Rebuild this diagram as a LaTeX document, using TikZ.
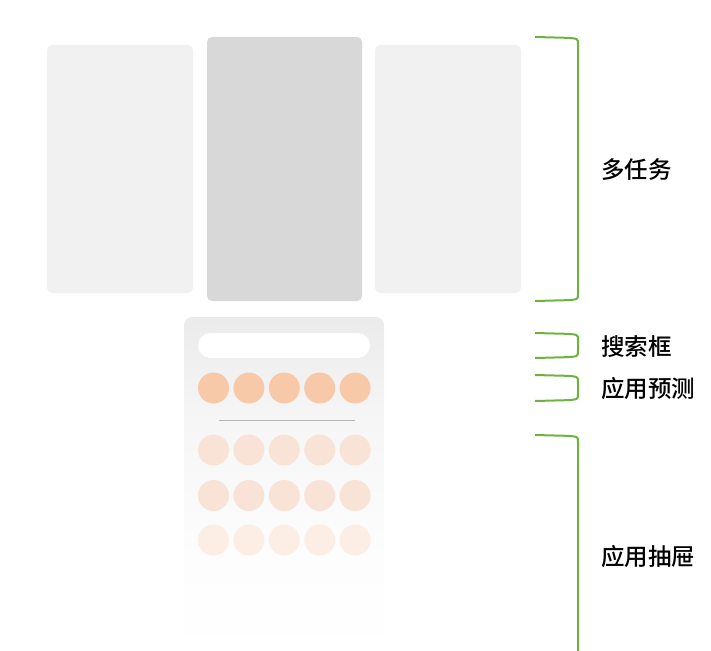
\documentclass[tikz,border=0pt]{standalone}
\usepackage{fontspec}
\newfontfamily\cjk{Noto Sans CJK SC Medium}
\usetikzlibrary{positioning}
\definecolor{cardgray}{HTML}{F1F1F1}
\definecolor{activegray}{HTML}{D8D8D8}
\definecolor{bracegreen}{HTML}{6DB33F}
\definecolor{iconpeach}{HTML}{F7C9A9}
\definecolor{drawerpeach}{HTML}{F9E3D6}
\definecolor{fadedpeach}{HTML}{FCEEE5}
\definecolor{panelgray}{HTML}{EBEBEB}
\definecolor{panelmid}{HTML}{F6F6F6}
\definecolor{panelsoft}{HTML}{FAFAFA}
\definecolor{panelfaint}{HTML}{FDFDFD}
\definecolor{rulegray}{HTML}{B4B4B4}
\pgfdeclareverticalshading{panelfade}{100bp}{color(0bp)=(white); color(25bp)=(white);
  color(40bp)=(panelfaint); color(48bp)=(panelsoft); color(60bp)=(panelmid);
  color(75bp)=(panelgray); color(100bp)=(panelgray)}
\newcommand{\groupbrace}[2]{\draw[groupline] (535,#1) -- (566,#1+0.8) .. controls (578,#1+1.5) .. (578,#1+7)
  -- (578,#2-7) .. controls (578,#2-1.5) .. (566,#2-0.8) -- (535,#2);}

\begin{document}
\begin{tikzpicture}[x=1pt, y=-1pt,
  card/.style={rectangle, rounded corners=5pt, inner sep=0pt, fill=cardgray,
    minimum width=146pt, minimum height=248pt},
  active card/.style={card, fill=activegray, minimum width=155pt, minimum height=264pt},
  icon/.style={circle, inner sep=0pt, minimum size=31pt, fill=iconpeach},
  groupline/.style={draw=bracegreen, line width=2pt},
  group label/.style={anchor=west, inner sep=0pt, font=\cjk\fontsize{23.5}{28}\selectfont}]
  \useasboundingbox (0,0) rectangle (711,650);
  % task switcher cards
  \node[card] (leftcard) at (120,169) {};
  \node[active card] (midcard) at (284.5,169) {};
  \node[card] (rightcard) at (448,169) {};
  % launcher panel
  \shade[shading=panelfade, rounded corners=8pt]
    (184,660) -- (184,317) -- (384,317) -- (384,660) -- cycle;
  \node[rectangle, rounded corners=12.5pt, fill=white, minimum width=172pt, minimum height=25pt] (search) at (284,345.5) {};
  \foreach \i in {0,...,4}
    \node[icon] (pred\i) at (213.5+35.4*\i,388) {};
  \draw[rulegray, line width=0.8pt] (219,420) -- (355,420);
  \foreach \i in {0,...,4} {
    \node[icon, fill=drawerpeach] (appa\i) at (213.5+35.4*\i,450) {};
    \node[icon, fill=drawerpeach] (appb\i) at (213.5+35.4*\i,495.5) {};
    \node[icon, fill=fadedpeach] (appc\i) at (213.5+35.4*\i,540) {};
  }
  % groups
  \groupbrace{37}{301}
  \groupbrace{333}{358}
  \groupbrace{375}{401}
  \groupbrace{435}{700}
  \node[group label] (multitask) at (601,170) {多任务};
  \node[group label] (searchbox) at (601,347) {搜索框};
  \node[group label] (prediction) at (601,389) {应用预测};
  \node[group label] (drawer) at (601,557) {应用抽屉};
\end{tikzpicture}
\end{document}
